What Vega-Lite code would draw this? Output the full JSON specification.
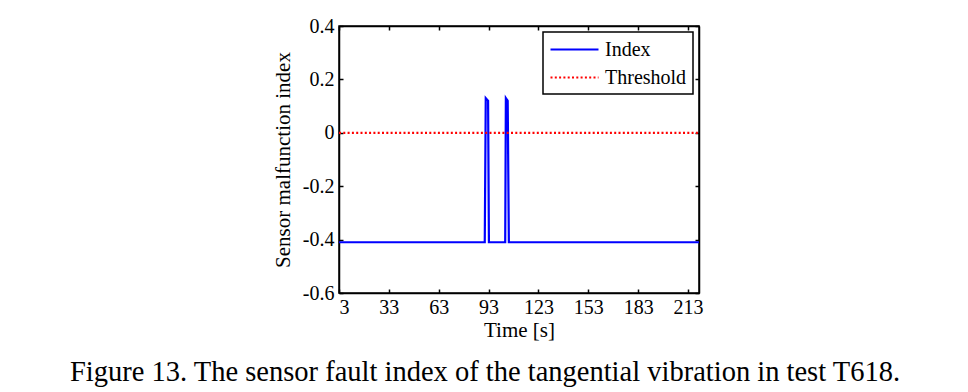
{
  "$schema": "https://vega.github.io/schema/vega-lite/v6.json",
  "width": 360,
  "height": 267,
  "autosize": {"type": "none"},
  "padding": {"left": 339, "top": 26, "right": 269, "bottom": 99},
  "background": "white",
  "title": {
    "text": "Figure 13. The sensor fault index of the tangential vibration in test T618.",
    "orient": "bottom",
    "anchor": "middle",
    "font": "Liberation Serif",
    "fontSize": 28.5,
    "fontWeight": "normal",
    "color": "black",
    "dx": -34,
    "offset": 18
  },
  "data": {
    "values": [
      {"t": 3, "v": -0.41, "series": "Index"},
      {"t": 90.7, "v": -0.41, "series": "Index"},
      {"t": 91.3, "v": 0.13, "series": "Index"},
      {"t": 92.7, "v": 0.12, "series": "Index"},
      {"t": 93.2, "v": -0.41, "series": "Index"},
      {"t": 103.0, "v": -0.41, "series": "Index"},
      {"t": 103.4, "v": 0.13, "series": "Index"},
      {"t": 104.5, "v": 0.12, "series": "Index"},
      {"t": 105.2, "v": -0.41, "series": "Index"},
      {"t": 219.6, "v": -0.41, "series": "Index"},
      {"t": 3, "v": 0, "series": "Threshold"},
      {"t": 219.6, "v": 0, "series": "Threshold"}
    ]
  },
  "layer": [
    {
      "mark": {"type": "line", "strokeWidth": 2.2, "clip": true},
      "encoding": {
        "x": {
          "field": "t", "type": "quantitative",
          "scale": {"domain": [3, 219.6], "nice": false, "zero": false},
          "axis": {
            "orient": "bottom",
            "values": [3, 33, 63, 93, 123, 153, 183, 213],
            "title": "Time [s]",
            "grid": false
          }
        },
        "y": {
          "field": "v", "type": "quantitative",
          "scale": {"domain": [-0.6, 0.4], "nice": false, "zero": false},
          "axis": {
            "orient": "left",
            "values": [-0.6, -0.4, -0.2, 0, 0.2, 0.4],
            "labelExpr": "toString(round(datum.value*10)/10)",
            "title": "Sensor malfunction index",
            "grid": false
          }
        },
        "color": {
          "field": "series", "type": "nominal",
          "scale": {"domain": ["Index", "Threshold"], "range": ["#0000ff", "#ff0000"]},
          "legend": {"title": null}
        },
        "strokeDash": {
          "field": "series", "type": "nominal",
          "scale": {"domain": ["Index", "Threshold"], "range": [[1, 0], [2, 2.3]]},
          "legend": {"title": null}
        }
      }
    },
    {
      "mark": {"type": "line", "opacity": 0},
      "encoding": {
        "x": {
          "field": "t", "type": "quantitative",
          "axis": {"orient": "top", "values": [3, 33, 63, 93, 123, 153, 183, 213], "labels": false, "title": null, "grid": false}
        },
        "y": {
          "field": "v", "type": "quantitative",
          "axis": {"orient": "right", "values": [-0.6, -0.4, -0.2, 0, 0.2, 0.4], "labels": false, "title": null, "grid": false}
        }
      }
    }
  ],
  "resolve": {"axis": {"x": "independent", "y": "independent"}},
  "config": {
    "view": {"stroke": "black", "strokeWidth": 1.5},
    "font": "Liberation Serif",
    "axis": {
      "domainColor": "black",
      "domainWidth": 1.5,
      "tickColor": "black",
      "tickWidth": 1.5,
      "tickSize": -4,
      "labelFont": "Liberation Serif",
      "labelFontSize": 20,
      "labelColor": "black",
      "titleFont": "Liberation Serif",
      "titleFontSize": 21,
      "titleFontWeight": "normal",
      "titleColor": "black"
    },
    "axisBottom": {"labelPadding": 8, "titlePadding": 2},
    "axisLeft": {"labelPadding": 9, "titlePadding": 9},
    "legend": {
      "orient": "top-right",
      "offset": 6,
      "fillColor": "white",
      "strokeColor": "black",
      "strokeWidth": 1.5,
      "padding": 6,
      "labelFont": "Liberation Serif",
      "labelFontSize": 20,
      "labelColor": "black",
      "symbolType": "M-1,0H3.8",
      "symbolSize": 400,
      "symbolStrokeWidth": 2.2,
      "rowPadding": 6,
      "labelOffset": 33
    }
  }
}
